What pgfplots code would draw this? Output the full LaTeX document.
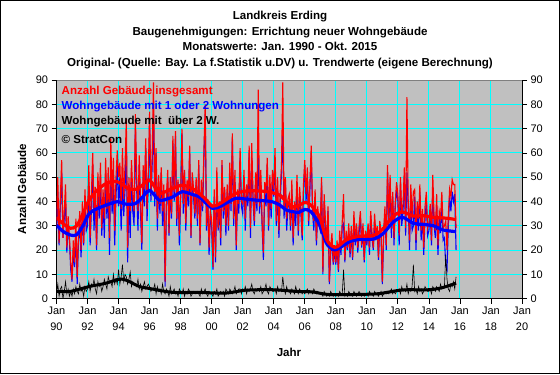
\documentclass[border=0pt]{standalone}
\usepackage{fontspec}
\setmainfont{Liberation Sans}
\usepackage{pgfplots}
\pgfplotsset{compat=1.18}
\usepackage{pgfplotstable}
\definecolor{cy}{RGB}{0,255,255}
\definecolor{bg}{RGB}{192,192,192}
\definecolor{xred}{RGB}{255,0,0}
\definecolor{xblue}{RGB}{0,0,255}
\definecolor{frm}{RGB}{128,128,128}

% monthly values Jan 1990 - Oct 2015: r = insgesamt, b = 1 oder 2 Whg., k = ueber 2 W.
\pgfplotstableread{
r b k
30 28 2
50 44 6
23 22 1
42 38 4
57 52 5
25 25 0
36 33 3
47 40 7
21 19 2
34 30 4
25 24 1
15 12 3
8 7 1
24 20 4
15 13 2
33 28 5
9 6 3
26 24 2
36 30 6
20 17 3
40 36 4
23 22 1
45 40 5
31 28 3
34 30 4
55 48 7
25 22 3
43 37 6
60 55 5
36 28 8
46 42 4
22 20 2
52 45 7
38 33 5
56 50 6
29 26 3
45 40 5
33 25 8
58 52 6
37 33 4
54 45 9
25 18 7
66 59 7
40 35 5
58 48 10
28 22 6
50 42 8
61 55 6
50 38 12
56 50 6
37 28 9
62 48 14
41 34 7
55 45 10
74 65 9
21 15 6
50 42 8
36 25 11
57 52 5
43 36 7
36 30 6
76 70 6
50 45 5
36 28 8
59 55 4
41 35 6
23 20 3
55 50 5
45 38 7
66 62 4
37 32 5
52 46 6
77 72 5
43 40 3
59 55 4
89 76 4
44 38 6
62 60 2
33 28 5
51 48 3
39 35 4
54 52 2
36 30 6
47 44 3
7 5 2
42 38 4
53 50 3
27 26 1
50 45 5
35 33 2
67 64 3
44 40 4
69 67 2
33 30 3
49 48 1
26 22 4
43 40 3
70 68 2
39 35 4
53 52 1
31 28 3
49 47 2
42 38 4
63 60 3
26 25 1
52 50 2
45 42 3
35 33 2
50 48 2
33 30 3
57 55 2
23 22 1
49 45 4
38 36 2
61 58 3
80 76 4
30 28 2
41 40 1
21 18 3
37 35 2
32 30 2
13 12 1
45 42 3
17 15 2
54 50 4
29 28 1
40 38 2
25 22 3
57 55 2
36 33 3
46 45 1
30 26 4
47 44 3
30 28 2
56 52 4
39 36 3
68 66 2
33 30 3
53 48 5
22 20 2
45 42 3
39 35 4
62 58 4
40 38 2
39 35 4
53 50 3
33 28 5
47 45 2
42 38 4
63 60 3
29 25 4
64 58 6
43 40 3
32 30 2
52 48 4
39 36 3
86 62 4
38 35 3
53 48 5
32 30 2
19 16 3
48 44 4
44 38 6
58 55 3
30 28 2
51 46 5
37 33 4
53 50 3
45 42 3
62 58 4
32 30 2
50 45 5
28 25 3
44 40 4
55 52 3
89 71 9
37 33 4
50 48 2
33 28 5
41 38 3
43 40 3
30 28 2
49 45 4
25 22 3
40 38 2
35 30 5
51 48 3
28 26 2
46 42 4
38 35 3
26 24 2
47 44 3
57 55 2
43 40 3
54 50 4
32 30 2
48 45 3
63 60 3
38 36 2
32 28 4
45 42 3
24 22 2
38 35 3
32 30 2
30 28 2
50 48 2
11 10 1
43 40 3
32 30 2
23 22 1
38 36 2
7 6 1
21 18 3
27 25 2
15 14 1
22 20 2
15 14 1
24 22 2
12 11 1
28 25 3
20 18 2
32 30 2
43 31 12
16 15 1
28 26 2
21 20 1
31 28 3
19 17 2
30 28 2
17 16 1
36 33 3
24 22 2
31 30 1
21 19 2
30 27 3
36 34 2
22 21 1
31 29 2
16 15 1
28 26 2
24 22 2
31 30 1
21 18 3
36 34 2
27 25 2
21 20 1
35 32 3
26 24 2
30 28 2
17 16 1
32 30 2
28 25 3
7 6 1
28 26 2
38 35 3
22 20 2
55 52 3
32 30 2
51 48 3
29 25 4
44 42 2
25 22 3
40 38 2
48 45 3
43 40 3
26 22 4
50 48 2
35 30 5
39 36 3
54 50 4
29 26 3
83 52 6
40 38 2
24 20 4
47 44 3
33 28 5
44 30 14
45 42 3
24 20 4
40 38 2
33 28 5
47 44 3
28 24 4
37 35 2
21 18 3
38 33 5
44 40 4
29 26 3
31 28 3
39 35 4
24 22 2
51 46 5
34 30 4
28 25 3
43 38 5
22 18 4
36 33 3
33 27 6
44 40 4
29 24 5
30 25 5
32 14 18
20 12 8
34 30 4
45 42 3
42 36 6
49 44 5
47 40 7
47 43 4
29 20 9
}\raw

\pgfplotstableread{
x y
1990.0 33.5
1990.4 31.0
1990.9 29.0
1991.3 30.0
1991.7 35.0
1992.1 40.6
1992.6 44.5
1993.2 47.4
1993.9 48.2
1994.6 45.4
1995.1 45.0
1995.5 46.5
1996.0 48.8
1996.6 43.5
1997.0 44.0
1997.5 45.4
1998.1 46.7
1998.7 45.5
1999.2 43.3
1999.6 41.0
2000.05 38.1
2000.5 39.0
2000.9 40.6
2001.55 43.3
2002.2 44.3
2002.8 44.4
2003.4 44.2
2003.9 43.6
2004.4 42.6
2004.8 40.0
2005.25 37.8
2005.6 38.3
2006.0 39.6
2006.4 38.5
2006.95 33.7
2007.4 24.5
2007.8 21.5
2008.1 21.4
2008.7 24.3
2009.5 25.7
2010.4 26.0
2011.0 28.5
2011.7 34.0
2012.3 35.7
2013.0 34.0
2013.6 34.2
2014.3 33.5
2015.0 33.2
2015.75 32.6
}\trred

\pgfplotstableread{
x y
1990.0 30.3
1990.4 27.8
1990.9 26.2
1991.3 26.3
1991.7 30.0
1992.1 35.0
1992.6 37.0
1993.2 38.5
1993.9 39.9
1994.5 38.9
1995.1 39.2
1995.5 41.5
1996.0 44.5
1996.6 40.6
1997.0 40.8
1997.5 41.9
1998.1 44.0
1998.7 43.0
1999.2 41.9
1999.6 39.5
2000.05 37.2
2000.5 37.8
2000.9 39.2
2001.55 41.3
2002.2 41.0
2002.8 40.6
2003.4 40.3
2003.9 39.9
2004.4 38.5
2004.8 36.5
2005.25 35.8
2005.6 35.5
2006.0 36.7
2006.4 35.8
2006.95 30.5
2007.4 22.8
2007.8 20.4
2008.1 20.4
2008.9 23.5
2009.5 24.4
2010.4 24.5
2011.0 26.5
2011.7 31.5
2012.3 33.5
2013.0 31.0
2013.6 30.6
2014.3 30.0
2014.9 28.3
2015.75 27.6
}\trblue

\pgfplotstableread{
x y
1990.0 3.0
1990.9 3.0
1992.1 5.0
1993.2 6.4
1994.0 8.0
1994.5 7.6
1995.35 5.0
1996.0 4.2
1997.5 2.6
1999.2 2.6
2000.9 2.3
2002.2 3.5
2003.9 3.7
2005.5 3.0
2006.5 2.8
2007.6 1.7
2009.7 1.8
2010.8 2.1
2012.3 3.6
2014.0 3.7
2014.9 4.6
2015.75 6.4
}\trblack

\begin{document}
\begin{tikzpicture}[x=1bp,y=1bp]
\useasboundingbox (0,0) rectangle (560,374);
\fill[white] (0,0) rectangle (560,374);
\draw[line width=1bp] (0.5,0.5) rectangle (559.5,373.5);
\begin{scope}[every node/.style={font=\bfseries\fontsize{11.6}{14}\selectfont, inner sep=0pt, anchor=base}]
\node at (280,374-19.8) {Landkreis Erding};
\node at (280,374-35.3) {Baugenehmigungen: Errichtung neuer Wohngebäude};
\node at (280,374-50.8) {Monatswerte: Jan. 1990 - Okt. 2015};
\node at (280,374-66.3) {Original- (Quelle: Bay. La f.Statistik u.DV) u. Trendwerte (eigene Berechnung)};
\node at (289,374-356) {Jahr};
\node[rotate=90, anchor=center] at (22,374-189) {Anzahl Gebäude};
\end{scope}

\begin{axis}[
  at={(56.5bp,75.3bp)}, anchor=south west, scale only axis,
  width=465.5bp, height=218.7bp,
  xmin=1990, xmax=2020, ymin=0, ymax=90,
  axis background/.style={fill=bg},
  axis line style={black, line width=0.8bp},
  grid=major, major grid style={cy, line width=1bp},
  xtick={1990,1992,...,2020},
  xticklabels={Jan\\90,Jan\\92,Jan\\94,Jan\\96,Jan\\98,Jan\\00,Jan\\02,Jan\\04,Jan\\06,Jan\\08,Jan\\10,Jan\\12,Jan\\14,Jan\\16,Jan\\18,Jan\\20},
  minor x tick num=23,
  ytick={0,10,...,90},
  xtick pos=bottom, ytick pos=left,
  tick align=outside,
  major tick length=5bp, minor tick length=2bp,
  every tick/.style={black, line width=0.8bp},
  minor tick style={black, line width=0.5bp},
  xticklabel style={align=center, font=\fontsize{11}{15.5}\selectfont},
  yticklabel style={font=\fontsize{11}{13}\selectfont},
  /pgf/number format/assume math mode=true,
  clip=true,
]
\addplot[xblue, line width=1.1bp] table[x expr=\coordindex/12+1990, y=b] {\raw};
\addplot[xred, line width=1.1bp] table[x expr=\coordindex/12+1990, y=r] {\raw};
\addplot[xblue, line width=3.2bp, smooth] table[x=x, y=y] {\trblue};
\addplot[xred, line width=3.2bp, smooth] table[x=x, y=y] {\trred};
\addplot[black, line width=0.6bp] table[x expr=\coordindex/12+1990, y=k] {\raw};
\addplot[black, line width=3bp, smooth] table[x=x, y=y] {\trblack};
\draw[frm, line width=1bp] (rel axis cs:0,1) -- (rel axis cs:1,1);
\end{axis}

\begin{axis}[
  at={(56.5bp,75.3bp)}, anchor=south west, scale only axis,
  width=465.5bp, height=218.7bp,
  xmin=1990, xmax=2020, ymin=0, ymax=90,
  axis x line=none, axis y line*=right,
  axis line style={black, line width=0.8bp},
  ytick={0,10,...,90},
  tick align=outside, major tick length=5bp,
  every tick/.style={black, line width=0.8bp},
  yticklabel style={font=\fontsize{11}{13}\selectfont},
  /pgf/number format/assume math mode=true,
]
\end{axis}

\begin{scope}[every node/.style={font=\bfseries\fontsize{11.6}{14}\selectfont, inner sep=0pt, anchor=base west}]
\node[text=xred] at (61.5,374-94.3) {Anzahl Gebäude insgesamt};
\node[text=xblue] at (61.5,374-109.3) {Wohngebäude mit 1 oder 2 Wohnungen};
\node at (61.5,374-124.8) {Wohngebäude mit\ \ über 2 W.};
\node at (61.5,374-143.8) {© StratCon};
\end{scope}
\end{tikzpicture}
\end{document}
